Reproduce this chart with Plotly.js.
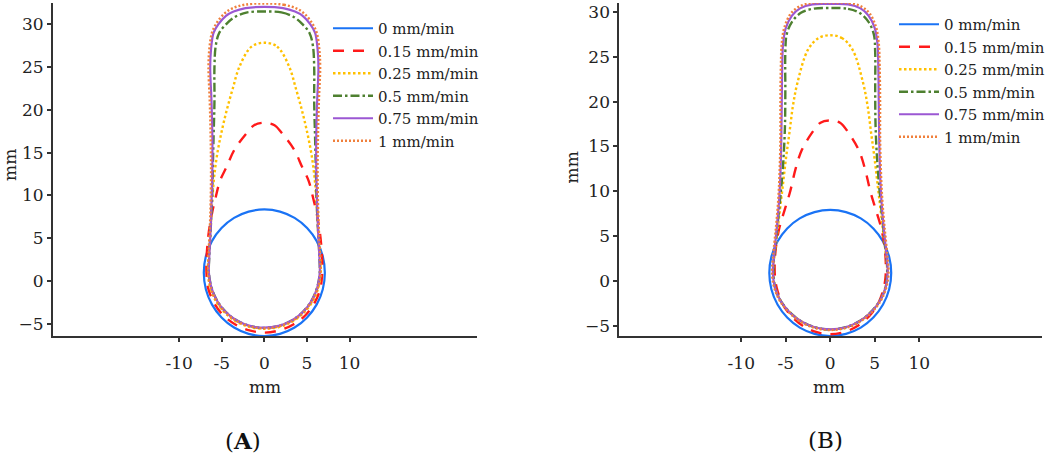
<!DOCTYPE html>
<html>
<head>
<meta charset="utf-8">
<script src="https://cdn.plot.ly/plotly-3.0.1.min.js"></script>
<style>
  html, body { margin: 0; padding: 0; background: #fff; }
  #chart { width: 1050px; height: 466px; }
</style>
</head>
<body>
<div id="chart"></div>
<script>
// ---------- data (mm) ----------
const seriesNames = ['0 mm/min', '0.15 mm/min', '0.25 mm/min', '0.5 mm/min', '0.75 mm/min', '1 mm/min'];
const xTickVals = [-10, -5, 0, 5, 10];
const yTickStep = 5;

// Panel A
const aX0 = [0,1.84,3.55,5.02,6.15,6.86,7.10,6.86,6.15,5.02,3.55,1.84,0,-1.84,-3.55,-5.02,-6.15,-6.86,-7.10,-6.86,-6.15,-5.02,-3.55,-1.84,0];
const aY0 = [8.35,8.10,7.36,6.18,4.65,2.87,0.95,-0.97,-2.75,-4.28,-5.46,-6.20,-6.45,-6.20,-5.46,-4.28,-2.75,-0.97,0.95,2.87,4.65,6.18,7.36,8.10,8.35];
const aX1 = [0,1.2,2.05,3.5,4.4,5.2,5.7,6.15,6.5,6.7,6.8,6.75,6.55,5.85,4.8,3.4,1.75,0,-1.75,-3.4,-4.8,-5.85,-6.55,-6.75,-6.8,-6.7,-6.5,-6.15,-5.7,-5.2,-4.4,-3.5,-2.05,-1.2,0];
const aY1 = [18.5,18.2,17.3,15.35,13.4,11.7,9.8,7.85,5.8,3.9,2.0,0.3,-1.0,-2.65,-4.05,-5.1,-5.8,-6.05,-5.8,-5.1,-4.05,-2.65,-1.0,0.3,2.0,3.9,5.8,7.85,9.8,11.7,13.4,15.35,17.3,18.2,18.5];
const aX2 = [0,1.5,2.9,3.7,4.4,5.0,5.5,5.85,6.05,6.2,6.35,6.55,6.6,6.35,5.7,4.65,3.3,1.7,0,-1.7,-3.3,-4.65,-5.7,-6.35,-6.6,-6.55,-6.35,-6.2,-6.05,-5.85,-5.5,-5.0,-4.4,-3.7,-2.9,-1.5,0];
const aY2 = [27.85,27.4,25.1,22.5,20,17.5,15,12.5,10.3,8,5,2.5,0.9,-0.75,-2.35,-3.7,-4.75,-5.4,-5.6,-5.4,-4.75,-3.7,-2.35,-0.75,0.9,2.5,5,8,10.3,12.5,15,17.5,20,22.5,25.1,27.4,27.85];
const aX3 = [0,2.0,3.4,4.5,5.3,5.7,5.85,5.85,5.95,6.05,6.15,6.3,6.45,6.5,6.2,5.54,4.53,3.2,1.66,0,-1.66,-3.2,-4.53,-5.54,-6.2,-6.5,-6.45,-6.3,-6.15,-6.05,-5.95,-5.85,-5.85,-5.7,-5.3,-4.5,-3.4,-2.0,0];
const aY3 = [31.5,31.4,30.9,30.0,29.0,27.5,25,21,17,13,9,6,3,0.9,-0.76,-2.3,-3.63,-4.64,-5.28,-5.5,-5.28,-4.64,-3.63,-2.3,-0.76,0.9,3,6,9,13,17,21,25,27.5,29.0,30.0,30.9,31.4,31.5];
const aX4 = [0,2.2,3.6,4.5,5.4,5.96,6.25,6.35,6.2,6.1,6.1,6.2,6.3,6.45,6.5,6.22,5.56,4.55,3.22,1.67,0,-1.67,-3.22,-4.55,-5.56,-6.22,-6.5,-6.45,-6.3,-6.2,-6.1,-6.1,-6.2,-6.35,-6.25,-5.96,-5.4,-4.5,-3.6,-2.2,0];
const aY4 = [32.05,31.9,31.5,31.0,30.0,29.0,27.1,25,21,17,13,9,6,3,0.9,-0.76,-2.3,-3.63,-4.64,-5.27,-5.48,-5.27,-4.64,-3.63,-2.3,-0.76,0.9,3,6,9,13,17,21,25,27.1,29.0,30.0,31.0,31.5,31.9,32.05];
const aX5 = [0,2.3,3.8,4.7,5.6,6.15,6.45,6.55,6.4,6.3,6.25,6.3,6.4,6.55,6.6,6.3,5.62,4.6,3.25,1.69,0,-1.69,-3.25,-4.6,-5.62,-6.3,-6.6,-6.55,-6.4,-6.3,-6.25,-6.3,-6.4,-6.55,-6.45,-6.15,-5.6,-4.7,-3.8,-2.3,0];
const aY5 = [32.45,32.3,31.85,31.25,30.15,29.0,27.1,25,21,17,13,9,6,3,0.9,-0.78,-2.33,-3.67,-4.7,-5.33,-5.55,-5.33,-4.7,-3.67,-2.33,-0.78,0.9,3,6,9,13,17,21,25,27.1,29.0,30.15,31.25,31.85,32.3,32.45];

// Panel B
const bX0 = [0,1.77,3.43,4.84,5.93,6.62,6.85,6.62,5.93,4.84,3.43,1.77,0,-1.77,-3.43,-4.84,-5.93,-6.62,-6.85,-6.62,-5.93,-4.84,-3.43,-1.77,0];
const bY0 = [7.91,7.67,6.97,5.85,4.40,2.70,0.88,-0.94,-2.64,-4.09,-5.21,-5.91,-6.15,-5.91,-5.21,-4.09,-2.64,-0.94,0.88,2.70,4.40,5.85,6.97,7.67,7.91];
const bX1 = [0,1.1,2.1,3.2,3.9,4.5,5.1,5.7,6.1,6.25,6.2,6.0,5.4,4.4,3.1,1.6,0,-1.6,-3.1,-4.4,-5.4,-6.0,-6.2,-6.25,-6.1,-5.7,-5.1,-4.5,-3.9,-3.2,-2.1,-1.1,0];
const bY1 = [17.9,17.65,16.45,14.6,12.5,10,8,6,3.8,1.8,0.3,-0.85,-2.5,-3.9,-5.0,-5.7,-5.96,-5.7,-5.0,-3.9,-2.5,-0.85,0.3,1.8,3.8,6,8,10,12.5,14.6,16.45,17.65,17.9];
const bX2 = [0,1.3,2.5,3.7,4.2,4.6,5.0,5.35,5.65,6.0,6.3,6.4,6.2,5.55,4.5,3.2,1.65,0,-1.65,-3.2,-4.5,-5.55,-6.2,-6.4,-6.3,-6.0,-5.65,-5.35,-5.0,-4.6,-4.2,-3.7,-2.5,-1.3,0];
const bY2 = [27.4,27.1,25.8,22.05,19.5,16.45,13.5,10.5,8,5,2.5,0.9,-0.73,-2.25,-3.55,-4.55,-5.2,-5.42,-5.2,-4.55,-3.55,-2.25,-0.73,0.9,2.5,5,8,10.5,13.5,16.45,19.5,22.05,25.8,27.1,27.4];
const bX3 = [0,2.0,3.3,4.3,4.9,5.05,5.05,5.1,5.3,5.55,5.85,6.15,6.4,6.2,5.55,4.5,3.2,1.65,0,-1.65,-3.2,-4.5,-5.55,-6.2,-6.4,-6.15,-5.85,-5.55,-5.3,-5.1,-5.05,-5.05,-4.9,-4.3,-3.3,-2.0,0];
const bY3 = [30.45,30.35,29.9,28.9,27.5,25.5,21,17,13,10,7,4,1.5,-0.73,-2.25,-3.55,-4.55,-5.2,-5.42,-5.2,-4.55,-3.55,-2.25,-0.73,1.5,4,7,10,13,17,21,25.5,27.5,28.9,29.9,30.35,30.45];
const bX4 = [0,2.0,3.4,4.3,5.0,5.3,5.4,5.45,5.5,5.6,5.75,6.0,6.3,6.45,6.22,5.57,4.52,3.2,1.65,0,-1.65,-3.2,-4.52,-5.57,-6.22,-6.45,-6.3,-6.0,-5.75,-5.6,-5.5,-5.45,-5.4,-5.3,-5.0,-4.3,-3.4,-2.0,0];
const bY4 = [30.9,30.85,30.4,29.6,28.2,26.5,24,20,16,12,9,6,3,0.9,-0.73,-2.25,-3.55,-4.55,-5.2,-5.4,-5.2,-4.55,-3.55,-2.25,-0.73,0.9,3,6,9,12,16,20,24,26.5,28.2,29.6,30.4,30.85,30.9];
const bX5 = [0,2.1,3.5,4.45,5.15,5.45,5.55,5.6,5.6,5.7,5.85,6.1,6.4,6.55,6.3,5.63,4.57,3.24,1.67,0,-1.67,-3.24,-4.57,-5.63,-6.3,-6.55,-6.4,-6.1,-5.85,-5.7,-5.6,-5.6,-5.55,-5.45,-5.15,-4.45,-3.5,-2.1,0];
const bY5 = [31.05,31.0,30.6,29.8,28.3,26.5,24,20,16,12,9,6,3,0.9,-0.75,-2.28,-3.6,-4.62,-5.27,-5.48,-5.27,-4.62,-3.6,-2.28,-0.75,0.9,3,6,9,12,16,20,24,26.5,28.3,29.8,30.6,31.0,31.05];

// ---------- styles ----------
const lineStyles = [
  {color: '#1a73f5', width: 2.2, dash: 'solid'},
  {color: '#ff1a1a', width: 2.4, dash: '11px,9px'},
  {color: '#ffc000', width: 2.4, dash: '2.5px,2.5px'},
  {color: '#4e8030', width: 2.4, dash: '9px,3px,2.5px,3px'},
  {color: '#9b57d3', width: 2.2, dash: 'solid'},
  {color: '#f0803c', width: 2.4, dash: '2px,2px'}
];
const FONT = 'DejaVu Serif, Liberation Serif, serif';
const TXT = '#222';

const aXs = [aX0, aX1, aX2, aX3, aX4, aX5];
const aYs = [aY0, aY1, aY2, aY3, aY4, aY5];
const bXs = [bX0, bX1, bX2, bX3, bX4, bX5];
const bYs = [bY0, bY1, bY2, bY3, bY4, bY5];

const traces = [];
seriesNames.forEach((name, i) => {
  traces.push({
    type: 'scatter', mode: 'lines', name: name,
    x: aXs[i], y: aYs[i], xaxis: 'x', yaxis: 'y', legend: 'legend',
    line: Object.assign({shape: 'spline', smoothing: 1}, lineStyles[i])
  });
});
seriesNames.forEach((name, i) => {
  traces.push({
    type: 'scatter', mode: 'lines', name: name,
    x: bXs[i], y: bYs[i], xaxis: 'x2', yaxis: 'y2', legend: 'legend2',
    line: Object.assign({shape: 'spline', smoothing: 1}, lineStyles[i])
  });
});

const W = 1050, H = 466;
const px = v => v / W;
const py = v => 1 - v / H;

function xAxis(domain, range, anchor) {
  return {
    domain: domain, range: range, anchor: anchor,
    tickmode: 'array', tickvals: xTickVals,
    ticktext: xTickVals.map(String),
    showline: true, linewidth: 2, linecolor: '#333',
    ticks: 'outside', ticklen: 4, tickwidth: 2, tickcolor: '#333',
    ticklabelstandoff: 7,
    showgrid: false, zeroline: false,
    tickfont: {family: FONT, size: 17, color: TXT}
  };
}
function yAxis(domain, range, anchor) {
  return {
    domain: domain, range: range, anchor: anchor,
    tick0: 0, dtick: yTickStep,
    showline: true, linewidth: 2, linecolor: '#333',
    ticks: 'outside', ticklen: 4, tickwidth: 2, tickcolor: '#333',
    showgrid: false, zeroline: false,
    tickfont: {family: FONT, size: 17, color: TXT}
  };
}

const yDom = [1 - 336 / H, 1 - 3 / H];

const legendBase = {
  bgcolor: 'rgba(0,0,0,0)', borderwidth: 0,
  font: {family: FONT, size: 15, color: TXT},
  xanchor: 'left', yanchor: 'top', itemwidth: 40,
  tracegroupgap: 0
};

const layout = {
  width: W, height: H,
  margin: {l: 0, r: 0, t: 0, b: 0, pad: 0},
  paper_bgcolor: '#fff', plot_bgcolor: 'rgba(0,0,0,0)',
  showlegend: true,
  xaxis: xAxis([px(53), px(477)], [-24.8, 24.9], 'y'),
  yaxis: yAxis(yDom, [-6.45, 32.5], 'x'),
  xaxis2: xAxis([px(620), px(1043)], [-23.7, 23.8], 'y2'),
  yaxis2: yAxis(yDom, [-6.15, 31.0], 'x2'),
  legend: Object.assign({}, legendBase, {x: px(328), y: py(12)}),
  legend2: Object.assign({}, legendBase, {x: px(895), y: py(8)}),
  annotations: [
    {text: 'mm', xref: 'paper', yref: 'paper', x: px(265), y: py(387), showarrow: false,
     font: {family: FONT, size: 17, color: TXT}, xanchor: 'center', yanchor: 'middle'},
    {text: 'mm', xref: 'paper', yref: 'paper', x: px(830), y: py(387), showarrow: false,
     font: {family: FONT, size: 17, color: TXT}, xanchor: 'center', yanchor: 'middle'},
    {text: 'mm', xref: 'paper', yref: 'paper', x: px(10), y: py(165), showarrow: false, textangle: -90,
     font: {family: FONT, size: 17, color: TXT}, xanchor: 'center', yanchor: 'middle'},
    {text: 'mm', xref: 'paper', yref: 'paper', x: px(573), y: py(167), showarrow: false, textangle: -90,
     font: {family: FONT, size: 17, color: TXT}, xanchor: 'center', yanchor: 'middle'},
    {text: '(<b>A</b>)', xref: 'paper', yref: 'paper', x: px(243), y: py(440), showarrow: false,
     font: {family: FONT, size: 23, color: '#111'}, xanchor: 'center', yanchor: 'middle'},
    {text: '(B)', xref: 'paper', yref: 'paper', x: px(826), y: py(440), showarrow: false,
     font: {family: FONT, size: 23, color: '#111'}, xanchor: 'center', yanchor: 'middle'}
  ]
};

Plotly.newPlot('chart', traces, layout, {displayModeBar: false, staticPlot: true});
</script>
</body>
</html>
